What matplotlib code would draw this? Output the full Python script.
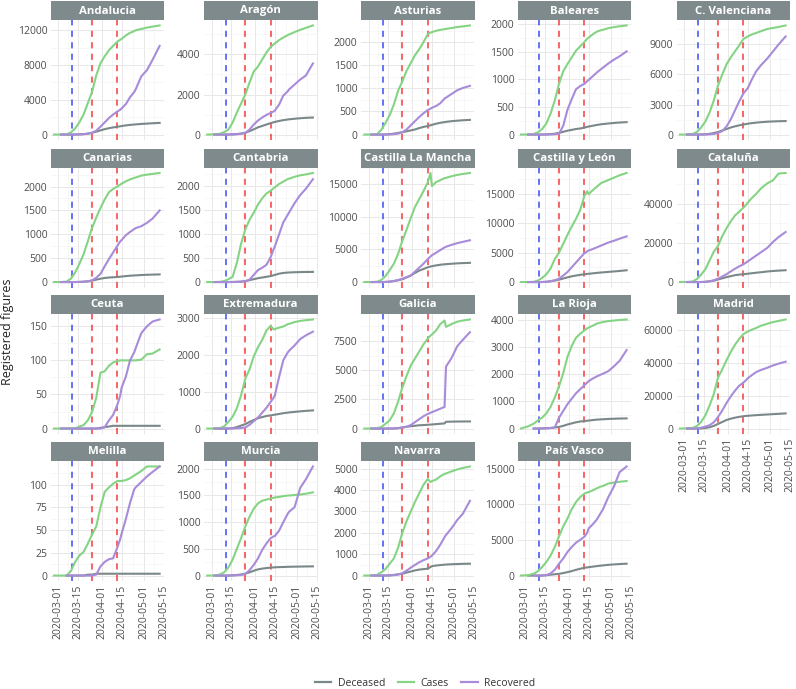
import numpy as np
import pandas as pd
import matplotlib
matplotlib.use("Agg")
import matplotlib.pyplot as plt
import matplotlib.dates as mdates
from matplotlib.patches import Rectangle
from matplotlib.lines import Line2D

plt.rcParams['font.family'] = ['Open Sans', 'DejaVu Sans']

nan = np.nan

# sample dates
dates = pd.to_datetime([
    "2020-02-27", "2020-03-03", "2020-03-07", "2020-03-10", "2020-03-13",
    "2020-03-16", "2020-03-19", "2020-03-22", "2020-03-25", "2020-03-28",
    "2020-03-31", "2020-04-03", "2020-04-06", "2020-04-09", "2020-04-12",
    "2020-04-14", "2020-04-15", "2020-04-18", "2020-04-21", "2020-04-24",
    "2020-04-25", "2020-04-29", "2020-05-03", "2020-05-07", "2020-05-12",
])

regions = ["Andalucia", "Aragón", "Asturias", "Baleares", "C. Valenciana",
           "Canarias", "Cantabria", "Castilla La Mancha", "Castilla y León", "Cataluña",
           "Ceuta", "Extremadura", "Galicia", "La Rioja", "Madrid",
           "Melilla", "Murcia", "Navarra", "País Vasco"]

cases = {
    "Andalucia": [0, 0, 30, 250, 700, 1400, 2300, 3600, 4900, 6800, 8200, 9000, 9700, 10200, 10700, 10900, 11000, 11400, 11700, 11900, 12000, 12150, 12300, 12420, 12550],
    "Aragón": [0, 10, 40, 120, 250, 600, 1100, 1550, 2000, 2600, 3150, 3400, 3750, 4100, 4380, 4500, 4550, 4720, 4850, 4960, 5000, 5120, 5230, 5330, 5450],
    "Asturias": [0, 0, 5, 100, 250, 420, 650, 950, 1150, 1380, 1550, 1720, 1850, 2000, 2170, 2210, 2220, 2250, 2270, 2285, 2290, 2310, 2330, 2345, 2365],
    "Baleares": [0, 0, 10, 40, 100, 200, 380, 620, 920, 1150, 1280, 1400, 1520, 1600, 1680, 1740, 1760, 1820, 1870, 1895, 1900, 1930, 1950, 1965, 1980],
    "C. Valenciana": [0, 0, 60, 250, 700, 1300, 2200, 3400, 4900, 6000, 7000, 7700, 8300, 8900, 9550, 9700, 9800, 10000, 10150, 10300, 10350, 10550, 10650, 10750, 10900],
    "Canarias": [0, 0, 10, 70, 200, 380, 580, 850, 1130, 1350, 1550, 1730, 1880, 1950, 2000, 2040, 2060, 2110, 2150, 2180, 2190, 2230, 2250, 2265, 2285],
    "Cantabria": [0, 0, 5, 20, 60, 110, 400, 800, 1100, 1300, 1450, 1620, 1750, 1850, 1910, 1960, 1980, 2050, 2100, 2150, 2160, 2200, 2230, 2250, 2280],
    "Castilla La Mancha": [0, 0, 50, 300, 900, 1800, 2800, 4300, 6300, 8000, 9800, 11500, 12700, 13900, 15200, 16700, 14700, 15300, 15600, 15900, 15950, 16200, 16400, 16550, 16700],
    "Castilla y León": [0, 0, 40, 250, 700, 1300, 2300, 3900, 5000, 6500, 8000, 9400, 10700, 12200, 14600, 15400, 14900, 15600, 16200, 16800, 16900, 17300, 17700, 18100, 18500],
    "Cataluña": [0, 50, 300, 1500, 3800, 6500, 11000, 15500, 18500, 23500, 27500, 31000, 34000, 36000, 38000, 39500, 40500, 43000, 45000, 47500, 48200, 50500, 52000, 55500, 55800],
    "Ceuta": [0, 0, 0, 0, 0, 3, 5, 12, 24, 45, 82, 84, 92, 97, 99, 100, 100, 100, 100, 100, 100, 101, 109, 110, 116],
    "Extremadura": [0, 0, 10, 60, 180, 320, 550, 900, 1350, 1600, 1950, 2200, 2400, 2650, 2780, 2680, 2690, 2730, 2760, 2820, 2830, 2880, 2910, 2930, 2950],
    "Galicia": [0, 0, 20, 130, 400, 700, 1300, 2300, 3500, 4500, 5400, 6000, 6600, 7200, 7700, 7950, 8050, 8400, 8950, 9250, 8700, 8950, 9150, 9250, 9340],
    "La Rioja": [0, 80, 180, 300, 400, 560, 800, 1150, 1560, 2050, 2650, 3050, 3350, 3500, 3625, 3700, 3730, 3800, 3880, 3920, 3930, 3970, 3990, 4010, 4030],
    "Madrid": [0, 50, 400, 1500, 4000, 8000, 14000, 21000, 31000, 36000, 41500, 46500, 51000, 54500, 57500, 58500, 59000, 60200, 61200, 62400, 62700, 63800, 64800, 65500, 66400],
    "Melilla": [0, 0, 0, 5, 15, 22, 26, 35, 45, 54, 75, 92, 97, 101, 104, 104, 104, 105, 107, 110, 111, 115, 120, 120, 120],
    "Murcia": [0, 0, 20, 60, 150, 300, 500, 700, 920, 1100, 1250, 1350, 1400, 1420, 1440, 1455, 1460, 1470, 1485, 1495, 1497, 1505, 1515, 1530, 1555],
    "Navarra": [0, 0, 30, 150, 300, 550, 800, 1300, 2000, 2550, 3000, 3450, 3850, 4250, 4520, 4380, 4420, 4500, 4650, 4760, 4780, 4880, 4970, 5040, 5110],
    "País Vasco": [0, 50, 250, 600, 1200, 1900, 2800, 4000, 5500, 6900, 8000, 9300, 10300, 11000, 11500, 11650, 11700, 11950, 12250, 12500, 12550, 12900, 13050, 13150, 13250],
}

deceased = {
    "Andalucia": [nan, 0, 0, 0, 5, 20, 50, 100, 200, 330, 480, 620, 730, 820, 900, 950, 980, 1050, 1110, 1155, 1170, 1220, 1260, 1300, 1340],
    "Aragón": [nan, 0, 0, 0, 2, 10, 25, 50, 90, 170, 260, 360, 430, 500, 570, 610, 630, 680, 720, 750, 760, 790, 815, 835, 850],
    "Asturias": [nan, 0, 0, 0, 2, 8, 20, 35, 50, 70, 90, 110, 140, 165, 185, 200, 210, 235, 255, 270, 275, 290, 300, 310, 318],
    "Baleares": [nan, 0, 0, 0, 0, 3, 8, 15, 30, 50, 70, 85, 100, 110, 125, 140, 145, 160, 175, 187, 190, 200, 210, 218, 225],
    "C. Valenciana": [nan, 0, 0, 0, 10, 30, 70, 150, 250, 400, 550, 700, 820, 920, 1000, 1050, 1080, 1140, 1190, 1230, 1240, 1280, 1310, 1330, 1350],
    "Canarias": [nan, 0, 0, 0, 1, 3, 8, 15, 30, 50, 70, 85, 95, 100, 105, 112, 115, 125, 133, 138, 140, 147, 152, 156, 160],
    "Cantabria": [nan, 0, 0, 0, 0, 2, 5, 10, 20, 40, 60, 80, 95, 110, 125, 140, 150, 175, 190, 198, 200, 205, 208, 210, 212],
    "Castilla La Mancha": [nan, 0, 0, 5, 20, 60, 150, 280, 420, 700, 1000, 1400, 1750, 2000, 2250, 2380, 2420, 2550, 2650, 2720, 2740, 2800, 2860, 2900, 2940],
    "Castilla y León": [nan, 0, 0, 0, 10, 40, 120, 250, 400, 600, 800, 970, 1100, 1220, 1320, 1380, 1400, 1480, 1560, 1620, 1640, 1720, 1800, 1880, 2000],
    "Cataluña": [nan, 0, 0, 0, 20, 100, 350, 700, 1300, 1900, 2500, 3000, 3500, 3800, 4000, 4150, 4250, 4500, 4750, 5000, 5050, 5400, 5650, 5850, 6050],
    "Ceuta": [nan, 0, 0, 0, 0, 0, 0, 0, 0, 0, 1, 2, 3, 4, 4, 4, 4, 4, 4, 4, 4, 4, 4, 4, 4],
    "Extremadura": [nan, 0, 0, 0, 2, 10, 40, 80, 120, 180, 230, 280, 310, 340, 355, 370, 375, 395, 415, 430, 435, 450, 465, 478, 490],
    "Galicia": [nan, 0, 0, 0, 0, 2, 10, 40, 90, 150, 200, 240, 280, 300, 320, 340, 350, 380, 410, 440, 580, 590, 600, 605, 610],
    "La Rioja": [nan, nan, 0, 0, 5, 10, 20, 40, 60, 100, 150, 190, 230, 260, 275, 290, 295, 315, 330, 340, 342, 355, 362, 370, 375],
    "Madrid": [nan, 0, 0, 20, 80, 300, 800, 1600, 2800, 4000, 5200, 6000, 6600, 7100, 7500, 7700, 7750, 7950, 8150, 8300, 8350, 8550, 8750, 8950, 9200],
    "Melilla": [nan, nan, 0, 0, 0, 0, 0, 1, 1, 2, 2, 2, 2, 2, 2, 2, 2, 2, 2, 2, 2, 2, 2, 2, 2],
    "Murcia": [nan, 0, 0, 0, 0, 5, 10, 20, 35, 60, 90, 115, 130, 140, 148, 152, 154, 158, 160, 163, 164, 166, 168, 170, 172],
    "Navarra": [nan, 0, 0, 0, 2, 10, 30, 55, 80, 140, 190, 240, 280, 300, 320, 400, 440, 470, 490, 510, 515, 530, 540, 548, 555],
    "País Vasco": [nan, 0, 0, 0, 10, 50, 120, 180, 240, 350, 480, 620, 800, 950, 1090, 1140, 1170, 1250, 1330, 1400, 1420, 1500, 1560, 1610, 1660],
}

recovered = {
    "Andalucia": [nan, 0, 0, 0, 5, 15, 40, 100, 200, 450, 900, 1400, 1900, 2300, 2650, 2850, 3000, 3500, 4300, 4900, 5200, 6700, 7400, 8600, 10200],
    "Aragón": [nan, 0, 0, 0, 0, 5, 15, 35, 80, 250, 500, 700, 850, 980, 1080, 1150, 1200, 1500, 1950, 2150, 2250, 2500, 2750, 2950, 3550],
    "Asturias": [nan, 0, 0, 0, 0, 2, 8, 20, 50, 110, 200, 290, 380, 460, 530, 560, 580, 620, 680, 780, 800, 880, 960, 1010, 1055],
    "Baleares": [nan, 0, 0, 0, 0, 0, 2, 5, 15, 160, 450, 640, 820, 880, 920, 970, 990, 1060, 1130, 1190, 1210, 1290, 1360, 1420, 1510],
    "C. Valenciana": [nan, 0, 0, 0, 0, 5, 20, 60, 150, 350, 800, 1500, 2400, 3300, 4100, 4450, 4600, 5500, 6300, 6850, 7000, 7600, 8300, 9000, 9800],
    "Canarias": [nan, 0, 0, 0, 0, 2, 5, 15, 35, 90, 170, 330, 480, 620, 760, 850, 880, 980, 1050, 1110, 1130, 1170, 1240, 1330, 1500],
    "Cantabria": [nan, 0, 0, 0, 0, 0, 2, 5, 15, 50, 150, 250, 300, 360, 520, 680, 750, 1000, 1250, 1400, 1450, 1650, 1820, 1950, 2150],
    "Castilla La Mancha": [nan, 0, 0, 0, 10, 50, 150, 300, 500, 750, 1000, 1600, 2200, 2800, 3500, 3900, 4100, 4500, 4900, 5300, 5400, 5700, 5950, 6150, 6400],
    "Castilla y León": [nan, 0, 0, 0, 0, 30, 150, 300, 570, 1100, 1700, 2500, 3300, 4100, 4870, 5200, 5350, 5600, 5900, 6200, 6300, 6700, 7000, 7350, 7750],
    "Cataluña": [nan, 0, 0, 0, 0, 100, 400, 900, 1700, 2800, 4000, 5400, 6800, 8000, 9100, 10000, 10500, 12000, 13500, 15000, 15500, 17500, 20500, 23000, 25600],
    "Ceuta": [nan, 0, 0, 0, 0, 0, 0, 0, 0, 0, 0, 2, 12, 20, 35, 48, 60, 76, 100, 112, 118, 140, 150, 157, 160],
    "Extremadura": [nan, 0, 0, 0, 0, 0, 5, 15, 30, 100, 200, 300, 430, 560, 720, 830, 900, 1400, 1850, 2050, 2100, 2250, 2420, 2520, 2620],
    "Galicia": [nan, 0, 0, 0, 0, 0, 2, 20, 90, 150, 300, 550, 800, 1050, 1250, 1350, 1400, 1550, 1700, 1850, 5300, 6050, 7050, 7600, 8250],
    "La Rioja": [nan, nan, 0, 0, 5, 10, 20, 40, 400, 650, 900, 1100, 1300, 1450, 1600, 1700, 1750, 1850, 1930, 2000, 2020, 2120, 2300, 2500, 2900],
    "Madrid": [nan, 0, 0, 0, 500, 1200, 2000, 3800, 7000, 11000, 15500, 19500, 23000, 26000, 28000, 29500, 30500, 32500, 34300, 35500, 35800, 37000, 38400, 39500, 40700],
    "Melilla": [nan, nan, 0, 0, 0, 0, 0, 0, 0, 1, 10, 15, 18, 19, 31, 40, 46, 62, 80, 95, 97, 103, 109, 114, 120],
    "Murcia": [nan, 0, 0, 0, 0, 0, 5, 10, 30, 100, 200, 320, 480, 600, 700, 730, 740, 840, 1000, 1150, 1190, 1280, 1640, 1800, 2040],
    "Navarra": [nan, 0, 0, 0, 0, 5, 20, 50, 110, 230, 370, 500, 620, 720, 800, 880, 930, 1150, 1450, 1800, 1900, 2220, 2600, 2900, 3500],
    "País Vasco": [nan, nan, 0, 0, 0, 50, 300, 800, 1650, 2400, 3300, 4000, 4600, 5000, 5440, 6000, 6600, 7200, 7900, 8900, 9200, 11000, 12500, 14500, 15300],
}

yticks = {
    "Andalucia": [0, 4000, 8000, 12000], "Aragón": [0, 2000, 4000],
    "Asturias": [0, 500, 1000, 1500, 2000], "Baleares": [0, 500, 1000, 1500, 2000],
    "C. Valenciana": [0, 3000, 6000, 9000], "Canarias": [0, 500, 1000, 1500, 2000],
    "Cantabria": [0, 500, 1000, 1500, 2000], "Castilla La Mancha": [0, 5000, 10000, 15000],
    "Castilla y León": [0, 5000, 10000, 15000], "Cataluña": [0, 20000, 40000],
    "Ceuta": [0, 50, 100, 150], "Extremadura": [0, 1000, 2000, 3000],
    "Galicia": [0, 2500, 5000, 7500], "La Rioja": [0, 1000, 2000, 3000, 4000],
    "Madrid": [0, 20000, 40000, 60000], "Melilla": [0, 25, 50, 75, 100],
    "Murcia": [0, 500, 1000, 1500, 2000], "Navarra": [0, 1000, 2000, 3000, 4000, 5000],
    "País Vasco": [0, 5000, 10000, 15000],
}

blue_date = "2020-03-11"
red_dates = ["2020-03-25", "2020-04-12"]
x_breaks = ["2020-03-01", "2020-03-15", "2020-04-01", "2020-04-15", "2020-05-01", "2020-05-15"]

col_dec, col_cases, col_rec = "#7b8889", "#84d484", "#a88bd9"
strip_col = "#7f8a8c"
txt_col = "#4d4d4d"

W, H = 796, 689
fig = plt.figure(figsize=(W / 100, H / 100), dpi=100)
fig.patch.set_facecolor("white")

col_left = [50.7, 204, 361, 517.7, 676.7]
strip_top = [1, 148.5, 295, 442]
pw, sh, ph = 113.5, 19, 120

def fbox(x, y, w, h):
    return [x / W, 1 - (y + h) / H, w / W, h / H]

xnum = mdates.date2num(dates)
xlo = mdates.date2num(pd.Timestamp("2020-02-24 16:00"))
xhi = mdates.date2num(pd.Timestamp("2020-05-15 06:00"))
xmaj = mdates.date2num(pd.to_datetime(x_breaks))
xmin = (xmaj[:-1] + xmaj[1:]) / 2

for i, reg in enumerate(regions):
    row, col = divmod(i, 5)
    x0 = col_left[col]
    y0 = strip_top[row]

    # strip
    fig.add_artist(Rectangle((x0 / W, 1 - (y0 + sh) / H), pw / W, sh / H,
                             transform=fig.transFigure, facecolor=strip_col, edgecolor="none"))
    fig.text((x0 + pw / 2) / W, 1 - (y0 + sh / 2 + 0.5) / H, reg, color="white",
             fontsize=8.2, fontweight="bold", ha="center", va="center")

    ax = fig.add_axes(fbox(x0, y0 + sh, pw, ph))
    c = np.array(cases[reg], dtype=float)
    d = np.array(deceased[reg], dtype=float)
    r = np.array(recovered[reg], dtype=float)
    top = np.nanmax(np.concatenate([c, d, r]))

    ax.set_xlim(xlo, xhi)
    ax.set_ylim(-0.05 * top, 1.05 * top)

    yt = yticks[reg]
    step = yt[1] - yt[0]
    ymin = [v + step / 2 for v in yt if v + step / 2 < 1.05 * top]
    ax.set_yticks(yt)
    ax.set_yticklabels([str(v) for v in yt])
    ax.set_yticks(ymin, minor=True)
    ax.set_xticks(xmaj)
    ax.set_xticks(xmin, minor=True)

    ax.grid(True, which="major", color="#e8e8e8", lw=0.7)
    ax.grid(True, which="minor", color="#f2f2f2", lw=0.4)
    ax.set_axisbelow(True)
    for s in ax.spines.values():
        s.set_visible(False)
    ax.tick_params(which="both", length=0, labelsize=7.5, colors=txt_col, pad=2.5)

    bottom = row == 3 or (col == 4 and row == 2)
    if bottom:
        ax.xaxis.set_major_formatter(mdates.DateFormatter("%Y-%m-%d"))
        for lab in ax.get_xticklabels():
            lab.set_rotation(90)
    else:
        ax.set_xticklabels([])

    ax.axvline(mdates.date2num(pd.Timestamp(blue_date)), color="#3b4cf5", lw=1.1,
               ls=(0, (4, 3.5)), zorder=1)
    for rd in red_dates:
        ax.axvline(mdates.date2num(pd.Timestamp(rd)), color="#f53b3b", lw=1.1,
                   ls=(0, (4, 3.5)), zorder=1)

    ax.plot(xnum, d, color=col_dec, lw=1.5, zorder=3)
    ax.plot(xnum, c, color=col_cases, lw=1.5, zorder=3)
    ax.plot(xnum, r, color=col_rec, lw=1.5, zorder=3)

fig.text(8 / W, 1 - 332 / H, "Registered figures", rotation=90, ha="center", va="center",
         fontsize=9, color="#222222")

handles = [Line2D([], [], color=col_dec, lw=1.6),
           Line2D([], [], color=col_cases, lw=1.6),
           Line2D([], [], color=col_rec, lw=1.6)]
fig.legend(handles, ["Deceased", "Cases", "Recovered"], loc="center", ncol=3,
           bbox_to_anchor=(425 / W, 1 - 683 / H), frameon=False, fontsize=7.5,
           handlelength=1.6, columnspacing=1.2, handletextpad=0.6, labelcolor="#333333")

fig.savefig("out.png", dpi=100)
